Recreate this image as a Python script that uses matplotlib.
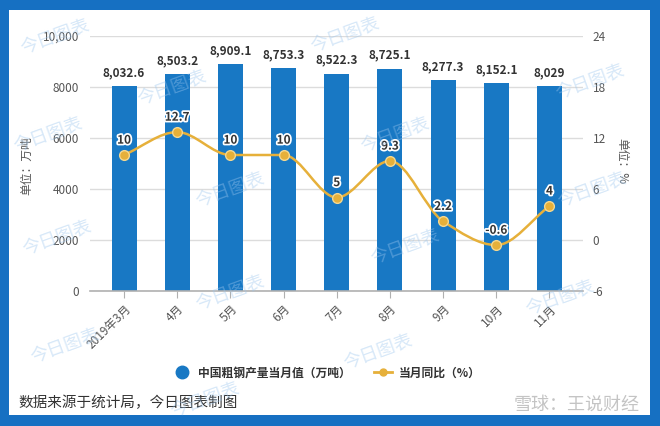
import numpy as np
import matplotlib
matplotlib.use("Agg")
import matplotlib.pyplot as plt
from matplotlib.path import Path
from matplotlib.patches import PathPatch, Rectangle
from matplotlib.lines import Line2D
import matplotlib.patheffects as pe

plt.rcParams['font.family'] = ['Noto Sans CJK SC', 'DejaVu Sans']
plt.rcParams['axes.unicode_minus'] = False

categories = ["2019年3月", "4月", "5月", "6月", "7月", "8月", "9月", "10月", "11月"]
output = [8032.6, 8503.2, 8909.1, 8753.3, 8522.3, 8725.1, 8277.3, 8152.1, 8029]
output_labels = ["8,032.6", "8,503.2", "8,909.1", "8,753.3", "8,522.3", "8,725.1", "8,277.3", "8,152.1", "8,029"]
yoy = [10, 12.7, 10, 10, 5, 9.3, 2.2, -0.6, 4]
yoy_labels = ["10", "12.7", "10", "10", "5", "9.3", "2.2", "-0.6", "4"]
left_ticks = [0, 2000, 4000, 6000, 8000, 10000]
left_ticklabels = ["0", "2000", "4000", "6000", "8000", "10,000"]
right_ticks = [-6, 0, 6, 12, 18, 24]

W, H = 660, 426
BAR = "#1878c4"
GOLD = "#e6b03a"
TXT = "#333333"

fig = plt.figure(figsize=(W / 100, H / 100), dpi=100)
fig.patch.set_facecolor("#1670c2")
fig.patches.append(Rectangle((9 / W, (H - 415) / H), (650 - 9) / W, (415 - 10) / H,
                             transform=fig.transFigure, facecolor="white", edgecolor="none", zorder=-5))

ax = fig.add_axes([90 / W, (H - 291) / H, 493 / W, 255 / H])
ax.set_facecolor("none")
x = np.arange(len(categories))
ax.bar(x, output, width=0.47, color=BAR, zorder=2)
ax.set_xlim(-0.64, 8.63)
ax.set_ylim(0, 10000)
ax.set_yticks(left_ticks)
ax.set_yticklabels(left_ticklabels)
ax.grid(axis="y", color="#dcdcdc", linewidth=1, zorder=0)
ax.set_axisbelow(True)
for s in ["top", "right", "left"]:
    ax.spines[s].set_visible(False)
ax.spines["bottom"].set_color("#b0b0b0")
ax.spines["bottom"].set_linewidth(1.2)
ax.tick_params(axis="y", length=0, pad=8, labelsize=8.5, labelcolor="#555555")
ax.tick_params(axis="x", length=5, color="#b0b0b0", pad=3, labelsize=8.5, labelcolor="#555555")
ax.set_xticks(x)
ax.set_xticklabels(categories, rotation=45, ha="right", va="top", rotation_mode="anchor")
ax.set_ylabel("单位：万吨", fontsize=8.5, color="#555555")
ax.yaxis.set_label_coords(-0.116, 0.49)

for xi, v, lab in zip(x, output, output_labels):
    ax.annotate(lab, (xi, v), xytext=(0, 5), textcoords="offset points", ha="center", va="bottom",
                fontsize=8.5, fontweight="bold", color=TXT, zorder=5)

ax2 = ax.twinx()
ax2.set_ylim(-6, 24)
ax2.set_yticks(right_ticks)
for s in ax2.spines.values():
    s.set_visible(False)
ax2.tick_params(axis="y", length=0, pad=7, labelsize=8.5, labelcolor="#555555")
ax2.set_ylabel("单位：%", fontsize=8.5, color="#555555", rotation=-90, va="center")
ax2.yaxis.set_label_coords(1.079, 0.51)

# smooth monotone curve (bezier path) through the points
xs = x.astype(float)
ys = np.array(yoy, dtype=float)
d = np.diff(ys)
m = np.zeros_like(ys)
for i in range(1, len(ys) - 1):
    if d[i - 1] * d[i] <= 0:
        m[i] = 0.0
    else:
        m[i] = 2.0 / (1.0 / d[i - 1] + 1.0 / d[i])
m[0] = d[0]
m[-1] = d[-1]
verts = [(xs[0], ys[0])]
codes = [Path.MOVETO]
for i in range(len(xs) - 1):
    h = xs[i + 1] - xs[i]
    verts += [(xs[i] + h / 3, ys[i] + m[i] * h / 3),
              (xs[i + 1] - h / 3, ys[i + 1] - m[i + 1] * h / 3),
              (xs[i + 1], ys[i + 1])]
    codes += [Path.CURVE4] * 3
ax2.add_patch(PathPatch(Path(verts, codes), facecolor="none", edgecolor=GOLD, linewidth=1.8, zorder=3))
ax2.plot(xs, ys, linestyle="none", marker="o", markersize=7, markerfacecolor=GOLD,
         markeredgecolor="#f5d890", markeredgewidth=1, zorder=4)
for xi, v, lab in zip(xs, ys, yoy_labels):
    ax2.annotate(lab, (xi, v), xytext=(0, 6), textcoords="offset points", ha="center", va="bottom",
                 fontsize=8.5, fontweight="bold", color=TXT, zorder=6,
                 path_effects=[pe.withStroke(linewidth=2.5, foreground="white")])

# legend
h1 = Line2D([], [], linestyle="none", marker="o", markersize=9, color=BAR)
h2 = Line2D([], [], color=GOLD, linewidth=2, marker="o", markersize=5)
leg = fig.legend([h1, h2], ["中国粗钢产量当月值（万吨）", "当月同比（%）"], loc="center",
                 bbox_to_anchor=(327 / W, (H - 373) / H), ncol=2, frameon=False,
                 prop={"size": 8.5, "weight": "bold"}, handlelength=1.5, columnspacing=2.0,
                 handletextpad=0.6)
for t in leg.get_texts():
    t.set_color(TXT)

fig.text(18 / W, (H - 403) / H, "数据来源于统计局，今日图表制图", fontsize=10.5, color=TXT,
         ha="left", va="center")
fig.text(640 / W, (H - 405) / H, "雪球：王说财经", fontsize=13, color="#c4c4c4",
         ha="right", va="center")

# watermarks
wm = [(55, 37), (172, 88), (345, 35), (590, 82), (48, 135), (230, 190), (395, 135),
      (592, 190), (57, 238), (230, 293), (65, 346), (205, 400), (405, 247), (560, 298), (378, 352)]
for (px, py) in wm:
    fig.text(px / W, (H - py) / H, "今日图表", fontsize=13, color="#9cc6ee", alpha=0.4,
             rotation=20, ha="center", va="center", zorder=10)

fig.savefig("out.png", dpi=100, facecolor=fig.get_facecolor())
